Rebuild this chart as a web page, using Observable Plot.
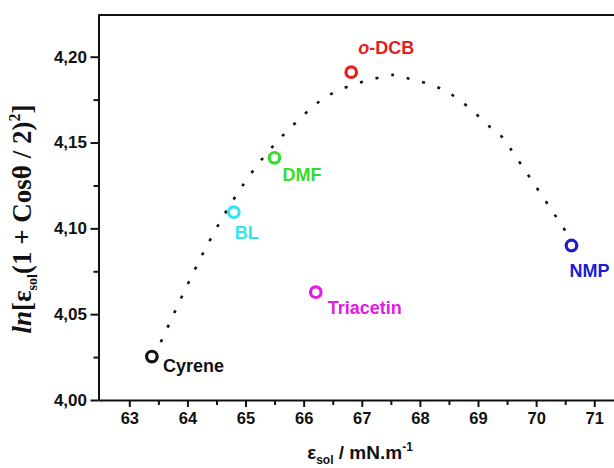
<!DOCTYPE html>
<html>
<head>
<meta charset="utf-8">
<script src="https://cdn.jsdelivr.net/npm/d3@7"></script>
<script src="https://cdn.jsdelivr.net/npm/@observablehq/plot@0.6"></script>
<style>
  html, body { margin: 0; padding: 0; background: #fff; }
  #chart { width: 614px; height: 468px; overflow: hidden; }
</style>
</head>
<body>
<div id="chart"></div>
<script>
// ---- data ----
const solvents = ["Cyrene", "BL", "DMF", "Triacetin", "o-DCB", "NMP"];
const surfaceTension = [63.38, 64.79, 65.49, 66.20, 66.81, 70.60];   // ε_sol / mN.m-1
const lnValue = [4.0256, 4.1097, 4.1414, 4.0631, 4.1913, 4.0903];    // ln[ε_sol(1+cosθ/2)^2]
const solventColors = ["#111111", "#35e3f0", "#35dd2a", "#e11be1", "#e3201c", "#1c1cd2"];

// dotted trend curve
const curveX = [63.42, 63.52, 64.05, 64.65, 65.31, 65.95, 66.57, 67.37, 67.65, 68.22, 68.79, 69.31, 69.54, 70.55];
const curveY = [4.0262, 4.0330, 4.0715, 4.1097, 4.1421, 4.1650, 4.1804, 4.1888, 4.1888, 4.1835, 4.1719, 4.1560, 4.1472, 4.0961];

const xTicks = [63, 64, 65, 66, 67, 68, 69, 70, 71];
const xMinorTicks = [63.5, 64.5, 65.5, 66.5, 67.5, 68.5, 69.5, 70.5];
const yTicks = [4.00, 4.05, 4.10, 4.15, 4.20];
const yMinorTicks = [4.025, 4.075, 4.125, 4.175];

// ---- build tables ----
const points = solvents.map((name, i) => ({name, x: surfaceTension[i], y: lnValue[i], color: solventColors[i]}));
const curve = curveX.map((x, i) => ({x, y: curveY[i]}));

const xDomain = [62.47, 71.34];
const yDomain = [4.0, 4.2246];
const sans = "'Liberation Sans', Arial, Helvetica, sans-serif";

// label placement (pixels relative to marker)
const labelOffset = {
  "Cyrene":    [11, 15],
  "BL":        [1, 27],
  "DMF":       [8, 23],
  "Triacetin": [12, 22],
  "o-DCB":     [7, -18],
  "NMP":       [-2, 31]
};

const labelMarks = points.map(p => Plot.text([p], {
  x: "x", y: "y", text: "name", fill: "color",
  dx: labelOffset[p.name][0], dy: labelOffset[p.name][1],
  textAnchor: "start", lineAnchor: "bottom",
  fontSize: 18, fontWeight: "bold", fontFamily: sans
}));

const fmt = d => d.toFixed(2).replace(".", ",");

const plot = Plot.plot({
  width: 614,
  height: 468,
  marginLeft: 98.5,
  marginRight: 0,
  marginTop: 14.5,
  marginBottom: 68,
  style: {fontFamily: sans, background: "#fff", color: "#111"},
  x: {domain: xDomain, label: null},
  y: {domain: yDomain, label: null},
  marks: [
    // minor ticks
    Plot.axisX(xMinorTicks, {tickSize: 5, strokeWidth: 2, text: null, anchor: "bottom", label: null}),
    Plot.axisY(yMinorTicks, {tickSize: 5, strokeWidth: 2, text: null, anchor: "left", label: null}),
    // major ticks + labels
    Plot.axisX(xTicks, {tickSize: 7, strokeWidth: 2, tickPadding: 5, anchor: "bottom", label: null,
      fontSize: 16.5, fontWeight: "bold", fill: "#111"}),
    Plot.axisY(yTicks, {tickSize: 8, strokeWidth: 2, tickPadding: 4, anchor: "left", label: null,
      tickFormat: fmt, fontSize: 17, fontWeight: "bold", fill: "#111"}),
    // frame lines (right side cut off in the reference)
    Plot.ruleX([xDomain[0]], {stroke: "#111", strokeWidth: 2}),
    Plot.ruleY([yDomain[0]], {stroke: "#111", strokeWidth: 2}),
    Plot.ruleY([yDomain[1]], {stroke: "#111", strokeWidth: 2}),
    // dotted trend curve
    Plot.line(curve, {x: "x", y: "y", curve: "natural", stroke: "#111", strokeWidth: 2.6,
      strokeDasharray: "3,13", strokeLinecap: "butt"}),
    // markers
    Plot.dot(points, {x: "x", y: "y", r: 5.3, stroke: "color", strokeWidth: 3.2, fill: "#fff"}),
    ...labelMarks
  ]
});

// italic "o" in o-DCB
plot.querySelectorAll("text").forEach(t => {
  if (t.textContent === "o-DCB") {
    t.textContent = "";
    const a = document.createElementNS("http://www.w3.org/2000/svg", "tspan");
    a.setAttribute("font-style", "italic");
    a.textContent = "o";
    const b = document.createElementNS("http://www.w3.org/2000/svg", "tspan");
    b.textContent = "-DCB";
    t.appendChild(a); t.appendChild(b);
  }
});

const svg = d3.select(plot);

// x axis label: ε_sol / mN.m^-1
const xl = svg.append("text")
  .attr("x", 360).attr("y", 459)
  .attr("text-anchor", "middle")
  .attr("font-family", sans).attr("font-weight", "bold").attr("font-size", 19)
  .attr("fill", "#111");
xl.append("tspan").text("ε");
xl.append("tspan").attr("font-size", 12).attr("dy", 5).text("sol");
xl.append("tspan").attr("dy", -5).text(" / mN.m");
xl.append("tspan").attr("font-size", 12).attr("dy", -8).text("-1");

// y axis label: ln[ε_sol(1 + Cosθ / 2)^2]
const serif = "'Liberation Serif', 'Times New Roman', Times, serif";
const yl = svg.append("text")
  .attr("transform", "translate(31,219) rotate(-90)")
  .attr("text-anchor", "middle")
  .attr("font-family", serif).attr("font-weight", "bold").attr("font-size", 27)
  .attr("fill", "#111");
yl.append("tspan").attr("font-style", "italic").text("ln");
yl.append("tspan").text("[ε");
yl.append("tspan").attr("font-size", 14).attr("dy", 6).text("sol");
yl.append("tspan").attr("dy", -6).text("(1 + Cosθ / 2)");
yl.append("tspan").attr("font-size", 16).attr("dy", -11).text("2");
yl.append("tspan").attr("dy", 11).text("]");

document.getElementById("chart").appendChild(plot);
</script>
</body>
</html>
